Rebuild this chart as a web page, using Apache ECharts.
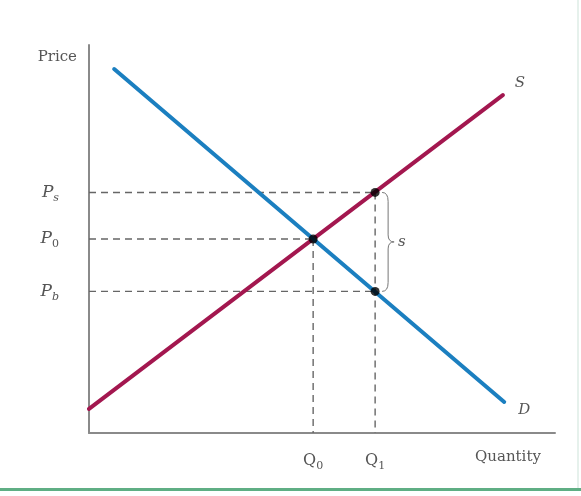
<!DOCTYPE html>
<html>
<head>
<meta charset="utf-8">
<script src="https://cdn.jsdelivr.net/npm/echarts@6/dist/echarts.min.js"></script>
<style>
  html, body { margin: 0; padding: 0; background: #fff; }
  #chart { width: 581px; height: 496px; }
</style>
</head>
<body>
<div id="chart"></div>
<script>
// supply and demand curves (quantity, price)
const supplyQ = [0, 88.8];
const supplyP = [6.2, 87.1];
const demandQ = [5.4, 89.1];
const demandP = [93.8, 8.0];

// equilibrium and subsidy points
const q0 = 48.1;
const q1 = 61.4;
const p0 = 50;
const ps = 62;
const pb = 36.5;

// tick labels
const priceTicks = [pb, p0, ps];
const priceLabels = ['{p|P}{sub|b}', '{p|P}{sub0|0}', '{p|P}{sub|s}'];
const qtyTicks = [q0, q1];
const qtyLabels = ['{q|Q}{sub0|0}', '{q|Q}{sub0|1}'];

const dotQ = [q0, q1, q1];
const dotP = [p0, ps, pb];

const SERIF = '"DejaVu Serif", "Liberation Serif", serif';
const TEXT = '#555';

const richLabel = {
  p: { fontFamily: SERIF, fontStyle: 'italic', fontSize: 17, color: TEXT },
  q: { fontFamily: SERIF, fontSize: 16, color: TEXT },
  sub: { fontFamily: SERIF, fontStyle: 'italic', fontSize: 11, color: TEXT, padding: [11, 0, 0, 0] },
  sub0: { fontFamily: SERIF, fontSize: 11, color: TEXT, padding: [11, 0, 0, 0] }
};

const chart = echarts.init(document.getElementById('chart'));

// dashed guide lines from the axes to each point
const guide = (data) => ({
  type: 'line',
  data: data,
  symbol: 'none',
  silent: true,
  lineStyle: { color: '#666', width: 1.4, type: [7, 5] },
  z: 1
});

const guides = [
  guide([[0, ps], [q1, ps]]),
  guide([[0, p0], [q0, p0]]),
  guide([[0, pb], [q1, pb]]),
  guide([[q0, p0], [q0, 0]]),
  guide([[q1, ps], [q1, 0]])
];

const endLabel = (text, offset) => ({
  show: true,
  formatter: text,
  offset: offset,
  fontFamily: SERIF,
  fontStyle: 'italic',
  fontSize: 15,
  color: TEXT
});

const option = {
  animation: false,
  backgroundColor: '#fff',
  grid: { left: 89, right: 26, top: 45, bottom: 63 },
  xAxis: {
    type: 'value',
    min: 0,
    max: 100,
    name: 'Quantity',
    nameLocation: 'end',
    nameGap: -80,
    nameTextStyle: { fontFamily: SERIF, fontSize: 15, color: TEXT, verticalAlign: 'top', padding: [17, 0, 0, 0] },
    axisLine: { lineStyle: { color: '#8a8a8a', width: 2 } },
    axisTick: { show: false },
    splitLine: { show: false },
    axisLabel: {
      customValues: qtyTicks,
      margin: 17,
      formatter: (v) => qtyLabels[qtyTicks.indexOf(v)] || '',
      rich: richLabel
    }
  },
  yAxis: {
    type: 'value',
    min: 0,
    max: 100,
    name: 'Price',
    nameLocation: 'end',
    nameGap: -20,
    nameTextStyle: { fontFamily: SERIF, fontSize: 15, color: TEXT, align: 'right', padding: [0, 12, 0, 0] },
    axisLine: { show: true, lineStyle: { color: '#8a8a8a', width: 2 } },
    axisTick: { show: false },
    splitLine: { show: false },
    axisLabel: {
      customValues: priceTicks,
      margin: 30,
      formatter: (v) => priceLabels[priceTicks.indexOf(v)] || '',
      rich: richLabel
    }
  },
  graphic: [
    { type: 'rect', shape: { x: 0, y: 488, width: 581, height: 3 }, style: { fill: '#5fae84' } },
    { type: 'rect', shape: { x: 577, y: 0, width: 2, height: 488 }, style: { fill: '#e6f1ec' } }
  ],
  series: [
    ...guides,
    {
      type: 'line',
      name: 'S',
      data: supplyQ.map((q, i) => [q, supplyP[i]]),
      symbol: 'none',
      lineStyle: { color: '#a3174f', width: 4, cap: 'round' },
      endLabel: endLabel('S', [4, -12]),
      z: 3
    },
    {
      type: 'line',
      name: 'D',
      data: demandQ.map((q, i) => [q, demandP[i]]),
      symbol: 'none',
      lineStyle: { color: '#1b7fc0', width: 4, cap: 'round' },
      endLabel: endLabel('D', [6, 8]),
      z: 3
    },
    {
      type: 'scatter',
      data: dotQ.map((q, i) => [q, dotP[i]]),
      symbolSize: 9,
      itemStyle: { color: '#000' },
      z: 5
    },
    {
      // curly brace marking the subsidy gap between Ps and Pb
      type: 'custom',
      data: [[q1, ps, pb]],
      silent: true,
      z: 4,
      renderItem: (params, api) => {
        const top = api.coord([api.value(0), api.value(1)]);
        const bot = api.coord([api.value(0), api.value(2)]);
        const x = top[0] + 7;
        const w = 6;
        const yt = top[1];
        const yb = bot[1];
        const ym = (yt + yb) / 2;
        const path = `M${x} ${yt} Q${x + w} ${yt} ${x + w} ${yt + 9} L${x + w} ${ym - 7} Q${x + w} ${ym} ${x + 2 * w} ${ym} Q${x + w} ${ym} ${x + w} ${ym + 7} L${x + w} ${yb - 9} Q${x + w} ${yb} ${x} ${yb}`;
        return {
          type: 'group',
          children: [
            { type: 'path', shape: { pathData: path }, style: { stroke: '#777', lineWidth: 1, fill: 'none' } },
            { type: 'text', x: x + 2 * w + 4, y: ym, style: { text: 's', fontFamily: SERIF, fontStyle: 'italic', fontSize: 15, fill: TEXT, verticalAlign: 'middle' } }
          ]
        };
      }
    }
  ]
};

chart.setOption(option);
</script>
</body>
</html>
